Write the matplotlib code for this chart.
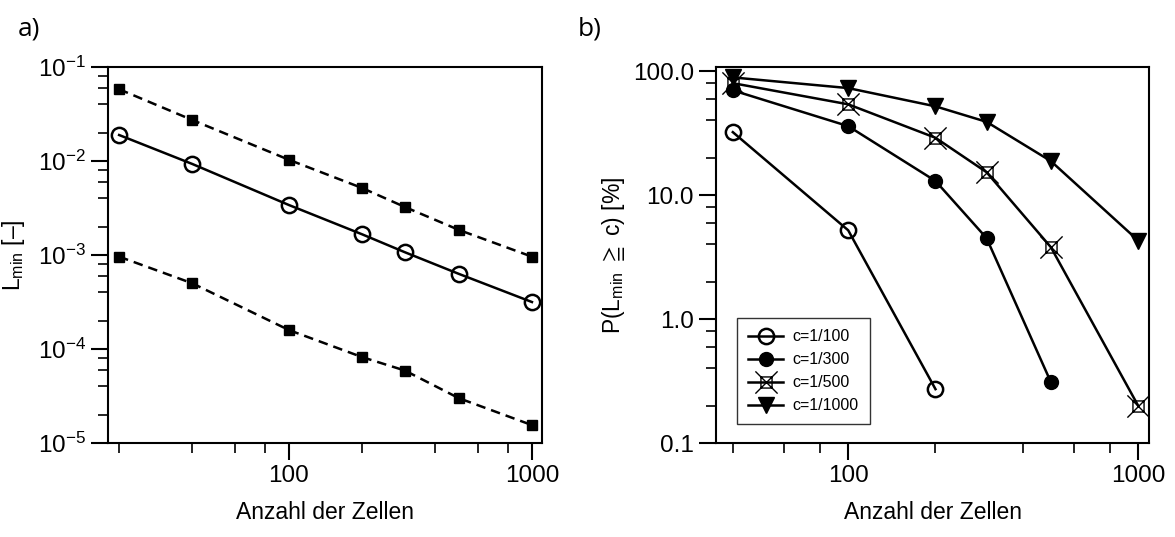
import matplotlib
matplotlib.use("Agg")
import matplotlib.pyplot as plt
from matplotlib.path import Path
from matplotlib.ticker import FixedLocator, NullFormatter

plt.rcParams['font.family'] = ['Liberation Sans', 'DejaVu Sans']
plt.rcParams['mathtext.fontset'] = 'custom'
plt.rcParams['mathtext.rm'] = 'Liberation Sans'
plt.rcParams['mathtext.it'] = 'Liberation Sans'
plt.rcParams['mathtext.fallback'] = 'stixsans'

# ---- data: panel a) ----
cells_a = [20, 40, 100, 200, 300, 500, 1000]
lmin_upper = [0.058, 0.0273, 0.0103, 0.00516, 0.00324, 0.00185, 0.00096]
lmin_mean = [0.0189, 0.0093, 0.0034, 0.00166, 0.00107, 0.00063, 0.000316]
lmin_lower = [0.00096, 0.0005, 0.000159, 8.2e-5, 5.9e-5, 3.0e-5, 1.55e-5]

# ---- data: panel b) ----
c_labels = ['c=1/100', 'c=1/300', 'c=1/500', 'c=1/1000']
cells_b = [40, 100, 200, 300, 500, 1000]
p_c100 = [32.2, 5.2, 0.272]
p_c300 = [70, 36, 13, 4.5, 0.31]
p_c500 = [80, 54, 29, 15.3, 3.8, 0.2]
p_c1000 = [89, 73, 52, 39, 18.8, 4.3]

x_major = [100, 1000]
x_minor = [20, 40, 60, 80, 200, 400, 600, 800]

W, H = 1175, 537
fig = plt.figure(figsize=(W / 100, H / 100), dpi=100)

ax1 = fig.add_axes([108 / W, (H - 443) / H, (542 - 108) / W, (443 - 67) / H])
ax2 = fig.add_axes([716 / W, (H - 443) / H, (1149 - 716) / W, (443 - 67) / H])

LW = 1.8
DASH = (0, (3.8, 2.4))
for ax in (ax1, ax2):
    ax.set_xscale('log')
    ax.set_yscale('log')
    for s in ax.spines.values():
        s.set_linewidth(1.5)
    ax.xaxis.set_major_locator(FixedLocator(x_major))
    ax.xaxis.set_minor_locator(FixedLocator(x_minor))
    ax.xaxis.set_minor_formatter(NullFormatter())
    ax.set_xticklabels([str(v) for v in x_major])
    ax.tick_params(which='major', direction='out', length=12, width=1.5,
                   labelsize=17.5, pad=4)
    ax.tick_params(which='minor', direction='out', length=7.5, width=1.2)
    ax.set_xlabel('Anzahl der Zellen', fontsize=16.5, labelpad=10)

# ---- panel a) ----
ax1.plot(cells_a, lmin_upper, color='black', lw=LW, ls=DASH,
         marker='s', ms=6.5, mfc='black', mec='black')
ax1.plot(cells_a, lmin_mean, color='black', lw=LW, ls='-',
         marker='o', ms=11, mfc='none', mec='black', mew=1.8)
ax1.plot(cells_a, lmin_lower, color='black', lw=LW, ls=DASH,
         marker='s', ms=6.5, mfc='black', mec='black')
ax1.set_xlim(18, 1100)
ax1.set_ylim(1e-5, 1e-1)
y_dec = [1e-5, 1e-4, 1e-3, 1e-2, 1e-1]
ax1.yaxis.set_major_locator(FixedLocator(y_dec))
ax1.yaxis.set_minor_locator(FixedLocator(
    [m * d for d in y_dec[:-1] for m in (2, 4, 6, 8)]))
ax1.yaxis.set_minor_formatter(NullFormatter())
ax1.set_yticklabels([r'$\mathregular{10^{%d}}$' % e for e in (-5, -4, -3, -2, -1)])
ax1.set_ylabel(r'$\mathregular{L_{min}}$ [–]', fontsize=16.5, labelpad=8)

# ---- panel b) ----
# square with a cross through it
sq = 0.5
xsq_path = Path(
    [(-sq, -sq), (sq, -sq), (sq, sq), (-sq, sq), (-sq, -sq),
     (-1, -1), (1, 1), (-1, 1), (1, -1)],
    [Path.MOVETO, Path.LINETO, Path.LINETO, Path.LINETO, Path.CLOSEPOLY,
     Path.MOVETO, Path.LINETO, Path.MOVETO, Path.LINETO])

ax2.plot(cells_b[:len(p_c100)], p_c100, color='black', lw=LW, marker='o',
         ms=11, mfc='none', mec='black', mew=1.8, label=c_labels[0])
ax2.plot(cells_b[:len(p_c300)], p_c300, color='black', lw=LW, marker='o',
         ms=10, mfc='black', mec='black', label=c_labels[1])
ax2.plot(cells_b[:len(p_c500)], p_c500, color='black', lw=LW, marker=xsq_path,
         ms=16, mfc='none', mec='black', mew=1.0, label=c_labels[2])
ax2.plot(cells_b[:len(p_c1000)], p_c1000, color='black', lw=LW, marker='v',
         ms=11, mfc='black', mec='black', label=c_labels[3])
ax2.set_xlim(35, 1090)
ax2.set_ylim(0.1, 108)
y_dec_b = [0.1, 1, 10, 100]
ax2.yaxis.set_major_locator(FixedLocator(y_dec_b))
ax2.yaxis.set_minor_locator(FixedLocator(
    [m * d for d in y_dec_b[:-1] for m in (2, 4, 6, 8)]))
ax2.yaxis.set_minor_formatter(NullFormatter())
ax2.set_yticklabels(['0.1', '1.0', '10.0', '100.0'])
ax2.set_ylabel(r'P($\mathregular{L_{min}\ \geqq\ c}$) [%]',
               fontsize=16.5, labelpad=4)

leg = ax2.legend(loc='upper left', bbox_to_anchor=(0.048, 0.332),
                 borderaxespad=0, fontsize=11.5, frameon=True, fancybox=False,
                 edgecolor='black', handlelength=2.2, handletextpad=0.6,
                 labelspacing=0.5, borderpad=0.7)
leg.get_frame().set_linewidth(1.0)

fig.text(18 / W, 1 - 36 / H, 'a)', fontsize=19, family=['Open Sans', 'DejaVu Sans'])
fig.text(578 / W, 1 - 36 / H, 'b)', fontsize=19, family=['Open Sans', 'DejaVu Sans'])

fig.savefig('out.png', dpi=100)
